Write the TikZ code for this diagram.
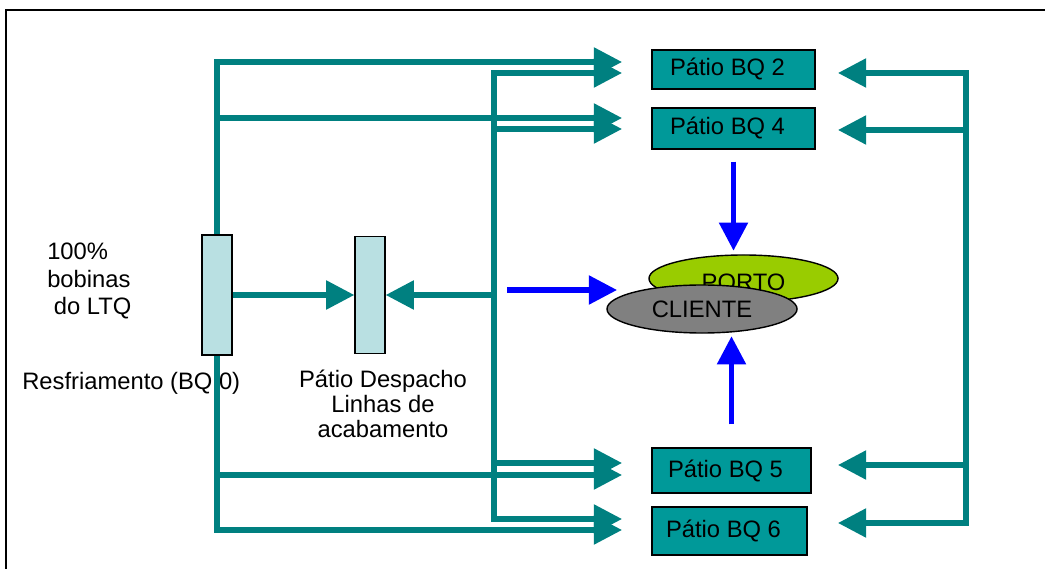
\documentclass[tikz,border=0pt]{standalone}
\usepackage{fontspec}
\setmainfont{Liberation Sans}
\usetikzlibrary{arrows.meta,shapes.geometric}
\definecolor{tealline}{RGB}{0,128,128}
\definecolor{tealbox}{RGB}{0,153,153}
\definecolor{icebox}{RGB}{185,224,226}
\definecolor{portogreen}{RGB}{153,204,0}
\definecolor{clientegray}{RGB}{128,128,128}

\begin{document}
\begin{tikzpicture}[x=0.025cm, y=-0.025cm, font=\fontsize{16.9}{20}\selectfont]
        \tikzset{>={Triangle[length=20pt,width=20pt]}}
        \tikzset{flow/.style={draw=tealline, line width=3.6pt}}
        \tikzset{push/.style={draw=blue, line width=3.6pt, ->}}
        \tikzset{patio/.style={draw=black, fill=tealbox, line width=1pt, inner sep=0pt, execute at begin node=\hspace*{-0.3cm}}}
        \tikzset{pulmao/.style={draw=black, fill=icebox, line width=1pt, minimum width=0.75cm, inner sep=0pt}}
        \tikzset{lugar/.style={ellipse, draw=black, line width=1pt, inner sep=0pt}}
        \useasboundingbox (0,0) rectangle (1045,569);
        \draw[line width=1.2pt] (6,569) -- (6,10) -- (1045,10);
        \node[anchor=west, align=left, inner sep=0pt, font=\fontsize{16.9}{19.6}\selectfont] (carga) at (47,281) {100\%\\bobinas\\~do LTQ};
        \node[anchor=base west, inner sep=0pt] (resfr) at (22,390) {Resfriamento (BQ 0)};
        \node[align=center, font=\fontsize{16.9}{17.8}\selectfont] (despt) at (383,404) {Pátio Despacho\\Linhas de\\acabamento};
        \coordinate (lt) at (217,62);
        \coordinate (lb) at (217,530);
        \coordinate (mt) at (494,73);
        \coordinate (mb) at (494,519);
        \coordinate (rt) at (966,73);
        \coordinate (rb) at (966,523);
        \coordinate (l2) at (622,62);
        \coordinate (l4) at (622,118);
        \coordinate (l5) at (622,475);
        \coordinate (l6) at (622,530);
        \coordinate (m2) at (622,73);
        \coordinate (m4) at (622,129);
        \coordinate (m5) at (622,463);
        \coordinate (m6) at (622,519);
        \coordinate (r2) at (838,73);
        \coordinate (r4) at (838,130);
        \coordinate (r5) at (838,465);
        \coordinate (r6) at (838,523);
        \coordinate (bl) at (507,290);
        \draw[flow, line cap=rect] (lt) -- (lb);
        \draw[flow, line cap=rect] (mt) -- (mb);
        \draw[flow, line cap=rect] (rt) -- (rb);
        \foreach \e in {l2,l4,l5,l6} \draw[flow,->] (lt |- \e) -- (\e);
        \foreach \e in {m2,m4,m5,m6} \draw[flow,->] (mt |- \e) -- (\e);
        \foreach \e in {r2,r4,r5,r6} \draw[flow,->] (rt |- \e) -- (\e);
        \node[pulmao, minimum height=3cm] (bq0) at (217,295) {};
        \node[pulmao, minimum height=2.925cm] (desp) at (370,295) {};
        \node[patio, minimum width=4.075cm, minimum height=0.975cm] (b2) at (733.5,69.5) {Pátio BQ 2};
        \node[patio, minimum width=4.075cm, minimum height=1.025cm] (b4) at (733.5,128.5) {Pátio BQ 4};
        \node[patio, minimum width=3.975cm, minimum height=1.125cm] (b5) at (731.5,470.5) {Pátio BQ 5};
        \node[patio, minimum width=3.875cm, minimum height=1.2cm] (b6) at (729.5,531) {Pátio BQ 6};
        \node[lugar, fill=portogreen, minimum width=4.725cm, minimum height=1.175cm, text height=0.6cm, text depth=0cm] (porto) at (743.5,278.5) {PORTO};
        \node[lugar, fill=clientegray, minimum width=4.75cm, minimum height=1.2cm] (cliente) at (702,309) {CLIENTE};
        \draw[flow,->] (bq0.east) -- (desp.west);
        \draw[flow,->] (mt |- desp) -- (desp.east);
        \draw[push] ([yshift=-0.3cm]b4.south) -- ++(0,89);
        \draw[push] ([yshift=0.575cm]b5.north) -- ++(0,-88);
        \draw[push] (bl) -- ++(110,0);
    \end{tikzpicture}
\end{document}
